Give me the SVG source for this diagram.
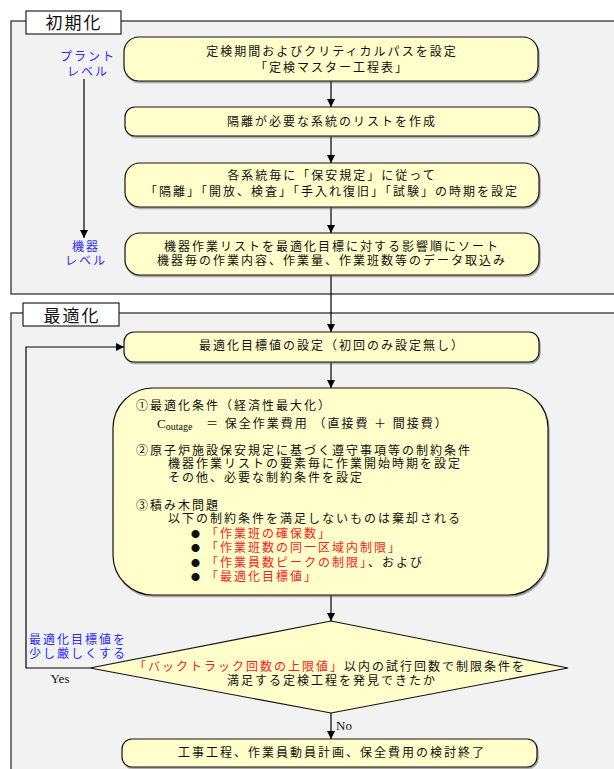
<svg xmlns="http://www.w3.org/2000/svg" width="614" height="769" viewBox="0 0 614 769">
<defs>
<marker id="ah" markerWidth="8" markerHeight="8" refX="8" refY="4" orient="auto" markerUnits="userSpaceOnUse">
<path d="M0,0 L8,4 L0,8 z" fill="#000"/>
</marker>
<filter id="sh" x="-5%" y="-5%" width="110%" height="120%">
<feDropShadow dx="1" dy="1.5" stdDeviation="0.6" flood-color="#555" flood-opacity="0.6"/>
</filter>
</defs>
<style>
text{font-family:"Noto Sans CJK JP","Noto Sans",sans-serif;font-size:12px;fill:#111;letter-spacing:2px}
.c{text-anchor:middle}
.box{fill:#ffffcc;stroke:#111;stroke-width:1.2;filter:url(#sh)}
.panel{fill:#f2f2f2;stroke:#333;stroke-width:1.3}
.lab{fill:#fff;stroke:#222;stroke-width:1.2}
.ttl{font-size:17px;letter-spacing:2px}
.blue{fill:#2a2aff}
.red{fill:#ff1a1a}
.ser{font-family:"Liberation Serif",serif;letter-spacing:0;font-size:13px}
.bul{font-size:9px;letter-spacing:0}
.ln{fill:none;stroke:#000;stroke-width:1.2}
</style>

<g id="panel-init">
<rect class="panel" x="11" y="21" width="620" height="273"/>
<rect class="lab" x="26" y="11" width="95" height="23"/>
<text class="c ttl" x="74" y="29">初期化</text>
</g>
<g id="panel-opt">
<rect class="panel" x="11" y="313" width="620" height="480"/>
<rect class="lab" x="23" y="303" width="96" height="23"/>
<text class="c ttl" x="72" y="322">最適化</text>
</g>

<g id="connectors">
<line class="ln" x1="84" y1="79" x2="84" y2="238" marker-end="url(#ah)"/>
<line class="ln" x1="331" y1="81" x2="331" y2="107" marker-end="url(#ah)"/>
<line class="ln" x1="331" y1="136" x2="331" y2="163" marker-end="url(#ah)"/>
<line class="ln" x1="331" y1="207" x2="331" y2="233" marker-end="url(#ah)"/>
<line class="ln" x1="331" y1="275" x2="331" y2="332" marker-end="url(#ah)"/>
<line class="ln" x1="331" y1="362" x2="331" y2="388" marker-end="url(#ah)"/>
<line class="ln" x1="331" y1="595" x2="331" y2="621" marker-end="url(#ah)"/>
<line class="ln" x1="331" y1="713" x2="331" y2="739" marker-end="url(#ah)"/>
<polyline class="ln" points="90,668 26,668 26,347 124,347" marker-end="url(#ah)"/>
</g>

<g id="lv-plant">
<text class="c blue" x="88" y="61">プラント</text>
<text class="c blue" x="88" y="76">レベル</text>
</g>
<g id="lv-equip">
<text class="c blue" x="86" y="251">機器</text>
<text class="c blue" x="86" y="265">レベル</text>
</g>

<g id="n1">
<rect class="box" x="124" y="37" width="414" height="44" rx="15"/>
<text class="c" x="332" y="56">定検期間およびクリティカルパスを設定</text>
<text class="c" x="332" y="72">「定検マスター工程表」</text>
</g>
<g id="n2">
<rect class="box" x="125" y="107" width="414" height="29" rx="10"/>
<text class="c" x="332" y="126">隔離が必要な系統のリストを作成</text>
</g>
<g id="n3">
<rect class="box" x="125" y="163" width="414" height="44" rx="15"/>
<text class="c" x="332" y="180">各系統毎に「保安規定」に従って</text>
<text class="c" x="332" y="196">「隔離」「開放、検査」「手入れ復旧」「試験」の時期を設定</text>
</g>
<g id="n4">
<rect class="box" x="125" y="233" width="414" height="42" rx="15"/>
<text class="c" x="332" y="251">機器作業リストを最適化目標に対する影響順にソート</text>
<text class="c" x="332" y="265">機器毎の作業内容、作業量、作業班数等のデータ取込み</text>
</g>
<g id="n5">
<rect class="box" x="124" y="332" width="415" height="30" rx="10"/>
<text class="c" x="332" y="350">最適化目標値の設定（初回のみ設定無し）</text>
</g>
<g id="n6">
<rect class="box" x="113" y="388" width="435" height="207" rx="40"/>
<text x="136" y="410">①最適化条件（経済性最大化）</text>
<text class="ser" x="157" y="428">C<tspan font-size="10" dy="2">outage</tspan></text>
<text x="206" y="428">＝ 保全作業費用 （直接費 ＋ 間接費）</text>
<text x="136" y="455">②原子炉施設保安規定に基づく遵守事項等の制約条件</text>
<text x="168" y="468">機器作業リストの要素毎に作業開始時期を設定</text>
<text x="168" y="482">その他、必要な制約条件を設定</text>
<text x="136" y="510">③積み木問題</text>
<text x="168" y="523">以下の制約条件を満足しないものは棄却される</text>
<text class="bul" x="191" y="537">●</text>
<text class="bul" x="191" y="551">●</text>
<text class="bul" x="191" y="566">●</text>
<text class="bul" x="191" y="580">●</text>
<text class="red" x="206" y="538">「作業班の確保数」</text>
<text class="red" x="206" y="552">「作業班数の同一区域内制限」</text>
<text x="206" y="567"><tspan class="red">「作業員数ピークの制限」</tspan>、および</text>
<text class="red" x="206" y="581">「最適化目標値」</text>
</g>
<g id="d1">
<polygon points="331,621 568,668 331,713 90,668" fill="#ffffcc" stroke="#111" stroke-width="1.2"/>
<text class="c" x="330" y="671"><tspan class="red">「バックトラック回数の上限値」</tspan>以内の試行回数で制限条件を</text>
<text class="c" x="332" y="685">満足する定検工程を発見できたか</text>
</g>
<g id="lbl-loop">
<text class="blue" x="29" y="644">最適化目標値を</text>
<text class="blue" x="29" y="658">少し厳しくする</text>
<text class="c ser" x="60" y="683">Yes</text>
<text class="ser" x="336" y="730">No</text>
</g>
<g id="n7">
<rect class="box" x="122" y="739" width="415" height="28" rx="10"/>
<text class="c" x="332" y="757">工事工程、作業員動員計画、保全費用の検討終了</text>
</g>
</svg>
